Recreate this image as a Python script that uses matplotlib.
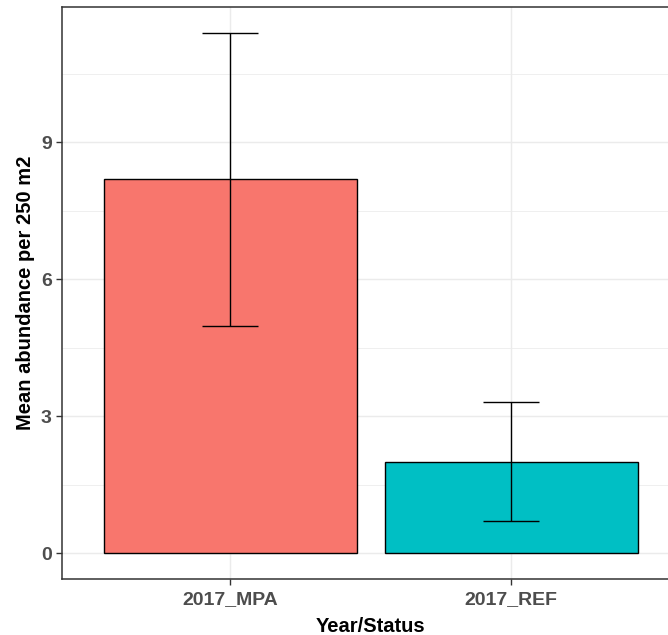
import matplotlib
matplotlib.use("Agg")
import matplotlib.pyplot as plt
from matplotlib.ticker import FixedLocator

categories = ["2017_MPA", "2017_REF"]
means = [8.2, 2.0]
lower = [4.97, 0.71]
upper = [11.4, 3.3]
colors = ["#F8766D", "#00BFC4"]
yticks = [0, 3, 6, 9]

plt.rcParams['font.family'] = ['Liberation Sans', 'DejaVu Sans']

W, H = 668, 635
fig = plt.figure(figsize=(W / 100, H / 100), dpi=100)
left_px, right_px, top_px, bot_px = 61.5, 680, 7, 579
ax = fig.add_axes([left_px / W, 1 - bot_px / H, (right_px - left_px) / W, (bot_px - top_px) / H])

x = list(range(1, len(categories) + 1))
ax.bar(x, means, width=0.9, color=colors, edgecolor="black", linewidth=1.0, zorder=3)
yerr = [[m - l for m, l in zip(means, lower)], [u - m for m, u in zip(means, upper)]]
ax.errorbar(x, means, yerr=yerr, fmt="none", ecolor="black", elinewidth=1.0,
            capsize=20.5, capthick=1.0, zorder=4)

ymax = max(upper)
ax.set_xlim(0.4, len(categories) + 0.6)
ax.set_ylim(-0.05 * ymax, ymax * 1.05)

ax.set_xticks(x)
ax.set_xticklabels(categories)
ax.yaxis.set_major_locator(FixedLocator(yticks))
ax.yaxis.set_minor_locator(FixedLocator([1.5, 4.5, 7.5, 10.5]))

ax.grid(True, which="major", color="#EBEBEB", linewidth=1.07, zorder=0)
ax.grid(True, which="minor", axis="y", color="#EBEBEB", linewidth=0.55, zorder=0)
ax.set_axisbelow(True)

for s in ax.spines.values():
    s.set_color("#333333")
    s.set_linewidth(1.1)

ax.tick_params(axis="both", which="major", length=4, width=1.0, color="#333333",
               labelsize=14, labelcolor="#4D4D4D", pad=3)
ax.tick_params(axis="x", which="major", pad=5)
ax.tick_params(axis="both", which="minor", length=0)
for lab in ax.get_xticklabels() + ax.get_yticklabels():
    lab.set_fontweight("bold")

ax.set_xlabel("Year/Status", fontsize=14.5, fontweight="bold", color="black", labelpad=6)
ax.set_ylabel("Mean abundance per 250 m2", fontsize=14.5, fontweight="bold", color="black", labelpad=4)

fig.savefig("out.png", dpi=100)
